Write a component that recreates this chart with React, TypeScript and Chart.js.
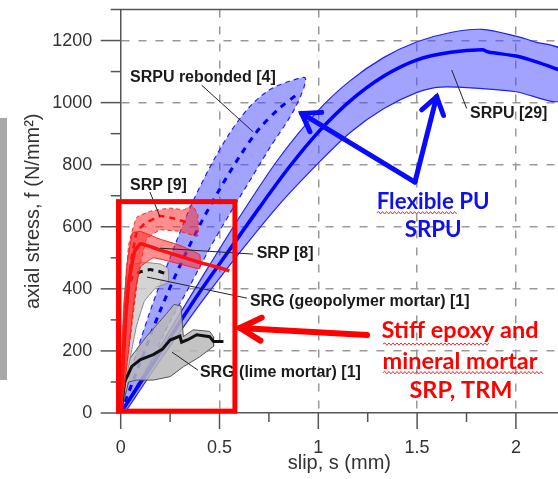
import React, { useEffect, useRef } from 'react';
import { Chart, registerables } from 'chart.js';

Chart.register(...registerables);

// ---------------- data ----------------
// SRPU [29] (Flexible PU) – mean curve and scatter band
const srpu29Slip = [0, 0.2, 0.4, 0.55, 0.7, 0.85, 1.0, 1.16, 1.33, 1.5, 1.67, 1.83, 1.86, 2.0, 2.1, 2.23];
const srpu29Stress = [0, 195, 390, 525, 660, 790, 905, 1005, 1085, 1138, 1162, 1170, 1163, 1150, 1132, 1103];
const srpu29UpperSlip = [0, 0.2, 0.4, 0.6, 0.8, 1.0, 1.16, 1.33, 1.5, 1.67, 1.83, 2.0, 2.1, 2.23];
const srpu29UpperStress = [0, 215, 425, 630, 820, 975, 1070, 1145, 1196, 1226, 1236, 1214, 1195, 1168];
const srpu29LowerSlip = [0.02, 0.2, 0.4, 0.6, 0.8, 1.0, 1.16, 1.33, 1.5, 1.62, 1.83, 2.0, 2.23];
const srpu29LowerStress = [0, 170, 350, 515, 670, 805, 903, 980, 1033, 1050, 1045, 1035, 1008];

// SRPU rebonded [4]
const rebondSlip = [0, 0.1, 0.2, 0.3, 0.4, 0.5, 0.6, 0.7, 0.8, 0.9];
const rebondStress = [0, 165, 330, 475, 605, 720, 825, 915, 980, 1030];
const rebondUpperSlip = [0, 0.05, 0.15, 0.25, 0.35, 0.45, 0.55, 0.65, 0.75, 0.85, 0.935];
const rebondUpperStress = [0, 130, 330, 500, 660, 790, 900, 985, 1040, 1068, 1078];
const rebondLowerSlip = [0, 0.15, 0.25, 0.35, 0.45, 0.55, 0.65, 0.75, 0.88];
const rebondLowerStress = [0, 165, 295, 410, 530, 640, 745, 850, 980];

// SRP [9]
const srp9Slip = [0, 0.02, 0.05, 0.08, 0.12, 0.2, 0.28, 0.35];
const srp9Stress = [0, 250, 480, 580, 610, 635, 625, 610];
const srp9UpperSlip = [0, 0.01, 0.04, 0.08, 0.15, 0.25, 0.32, 0.36, 0.39];
const srp9UpperStress = [0, 250, 540, 630, 650, 660, 655, 670, 640];
const srp9LowerSlip = [0, 0.05, 0.09, 0.13, 0.2, 0.3, 0.39];
const srp9LowerStress = [0, 250, 450, 560, 590, 585, 570];

// SRP [8]
const srp8Slip = [0, 0.02, 0.04, 0.07, 0.1, 0.2, 0.3, 0.4, 0.5, 0.55];
const srp8Stress = [0, 250, 420, 520, 545, 525, 505, 485, 468, 458];
const srp8UpperSlip = [0, 0.01, 0.03, 0.06, 0.1, 0.2, 0.3, 0.4];
const srp8UpperStress = [0, 250, 470, 580, 585, 560, 540, 510];
const srp8LowerSlip = [0, 0.04, 0.07, 0.1, 0.165, 0.3, 0.4];
const srp8LowerStress = [0, 200, 380, 470, 500, 480, 465];

// SRG (geopolymer mortar) [1]
const geoSlip = [0, 0.01, 0.025, 0.04, 0.06, 0.1, 0.15, 0.2, 0.23];
const geoStress = [0, 150, 300, 400, 440, 455, 462, 455, 448];
const geoUpperSlip = [0, 0.005, 0.015, 0.03, 0.06, 0.12, 0.2, 0.24];
const geoUpperStress = [0, 200, 350, 440, 478, 485, 480, 465];
const geoLowerSlip = [0, 0.04, 0.08, 0.12, 0.18, 0.24];
const geoLowerStress = [0, 150, 280, 360, 405, 420];

// SRG (lime mortar) [1]
const limeSlip = [0, 0.02, 0.056, 0.1, 0.165, 0.21, 0.25, 0.3, 0.308, 0.34, 0.385, 0.45, 0.47, 0.52];
const limeStress = [0, 100, 150, 172, 188, 205, 235, 248, 228, 236, 252, 246, 230, 230];
const limeUpperSlip = [0, 0.02, 0.047, 0.13, 0.233, 0.27, 0.305, 0.317, 0.367, 0.45, 0.47];
const limeUpperStress = [0, 140, 177, 246, 321, 350, 345, 246, 268, 263, 245];
const limeLowerSlip = [0, 0.04, 0.08, 0.165, 0.25, 0.317, 0.4, 0.47];
const limeLowerStress = [0, 100, 106, 106, 117, 149, 181, 215];

// axes ticks
const xMajorTicks = [0, 0.5, 1, 1.5, 2];
const xMinorTicks = [0.25, 0.75, 1.25, 1.75];
const yMajorTicks = [0, 200, 400, 600, 800, 1000, 1200];
const yMinorTicks = [100, 300, 500, 700, 900, 1100, 1300];

// annotation texts
const curveLabels = ['SRPU rebonded [4]', 'SRPU [29]', 'SRP [9]', 'SRP [8]', 'SRG (geopolymer mortar) [1]', 'SRG (lime mortar) [1]'];
const curveLabelPos = [[0.047, 1082], [1.768, 966], [0.047, 734], [0.688, 512], [0.654, 358], [0.401, 129]];
const leaderLines = [
  [0.41, 1056, 0.67, 906],
  [1.675, 1105, 1.751, 981],
  [0.148, 712, 0.199, 632],
  [0.199, 531, 0.67, 512],
  [0.133, 438, 0.639, 370],
  [0.26, 196, 0.391, 138],
];
const stiffLines = ['Stiff epoxy and', 'mineral mortar', 'SRP, TRM'];
const stiffPos = [[1.717, 267], [1.717, 165], [1.722, 74]];
const flexLines = ['Flexible PU', 'SRPU'];
const flexPos = [[1.581, 680], [1.581, 589]];

const FONT = "'Liberation Sans', Arial, Helvetica, sans-serif";
const CAL = "Lato, 'Open Sans', sans-serif";

function pts(xs: number[], ys: number[]) {
  return xs.map((x, i) => ({ x, y: ys[i] }));
}
function poly(ux: number[], uy: number[], lx: number[], ly: number[]) {
  return [...pts(ux, uy), ...pts(lx, ly).reverse()];
}

function lineDs(label: string, data: any[], color: string, width: number, dash: number[], order: number, tension = 0.2) {
  return { label, data, borderColor: color, borderWidth: width, borderDash: dash, pointRadius: 0, fill: false, order, tension, borderCapStyle: 'butt' };
}
function bandDs(label: string, data: any[], fillColor: string, edge: string, width: number, dash: number[], order: number, tension = 0.2) {
  return { label, data, borderColor: edge, borderWidth: width, borderDash: dash, backgroundColor: fillColor, pointRadius: 0, fill: 'shape', order, tension };
}

const overlayPlugin = {
  id: 'overlay',
  afterDraw(chart: any) {
    const { ctx, chartArea: ca, scales } = chart;
    const X = (v: number) => scales.x.getPixelForValue(v);
    const Y = (v: number) => scales.y.getPixelForValue(v);
    const seg = (x1: number, y1: number, x2: number, y2: number) => {
      ctx.beginPath();
      ctx.moveTo(x1, y1);
      ctx.lineTo(x2, y2);
      ctx.stroke();
    };
    ctx.save();
    // left photo strip remnant
    ctx.fillStyle = '#a8a8a8';
    ctx.fillRect(0, 118, 7, 262);

    // tick marks and top frame
    ctx.strokeStyle = '#555';
    ctx.lineWidth = 1.5;
    xMajorTicks.forEach((v) => seg(X(v), ca.bottom, X(v), ca.bottom + 16));
    xMinorTicks.forEach((v) => seg(X(v), ca.bottom, X(v), ca.bottom + 9));
    yMajorTicks.forEach((v) => seg(ca.left - 20, Y(v), ca.left, Y(v)));
    yMinorTicks.forEach((v) => seg(ca.left - 10, Y(v), ca.left, Y(v)));
    seg(ca.left, ca.top, ca.right, ca.top);

    // leader lines
    ctx.strokeStyle = '#222';
    ctx.lineWidth = 1;
    leaderLines.forEach((l) => seg(X(l[0]), Y(l[1]), X(l[2]), Y(l[3])));
    // curve labels
    ctx.fillStyle = '#1a1a1a';
    ctx.font = `bold 16px ${FONT}`;
    ctx.textAlign = 'left';
    ctx.textBaseline = 'middle';
    curveLabels.forEach((t, i) => ctx.fillText(t, X(curveLabelPos[i][0]), Y(curveLabelPos[i][1])));

    const arrow = (x1: number, y1: number, x2: number, y2: number, color: string, lw: number, hl: number, ha: number) => {
      ctx.strokeStyle = color;
      ctx.lineWidth = lw;
      ctx.lineCap = 'round';
      ctx.lineJoin = 'miter';
      seg(x1, y1, x2, y2);
      const a = Math.atan2(y2 - y1, x2 - x1);
      ctx.beginPath();
      ctx.moveTo(x2 - hl * Math.cos(a - ha), y2 - hl * Math.sin(a - ha));
      ctx.lineTo(x2, y2);
      ctx.lineTo(x2 - hl * Math.cos(a + ha), y2 - hl * Math.sin(a + ha));
      ctx.stroke();
    };
    const squiggle = (x1: number, x2: number, y: number) => {
      ctx.strokeStyle = '#e03030';
      ctx.lineWidth = 1;
      ctx.lineCap = 'butt';
      ctx.beginPath();
      ctx.moveTo(x1, y);
      let up = true;
      for (let x = x1 + 2; x <= x2; x += 2) {
        ctx.lineTo(x, y + (up ? -1.2 : 1.2));
        up = !up;
      }
      ctx.stroke();
    };
    const fitSize = (text: string, target: number, family: string) => {
      ctx.font = `bold 100px ${family}`;
      return (100 * target) / ctx.measureText(text).width;
    };

    // red box
    ctx.strokeStyle = '#ff0000';
    ctx.lineWidth = 5;
    ctx.lineJoin = 'miter';
    ctx.strokeRect(X(-0.011), Y(681), X(0.578) - X(-0.011), Y(6) - Y(681));
    // red arrow
    arrow(X(1.247), Y(251), X(0.604), Y(274), '#ff0000', 6, 24, 0.5);
    // red text
    const rs = fitSize(stiffLines[1], 155, CAL);
    ctx.font = `bold ${rs}px ${CAL}`;
    ctx.fillStyle = '#ff0000';
    ctx.textAlign = 'center';
    ctx.textBaseline = 'middle';
    stiffLines.forEach((t, i) => ctx.fillText(t, X(stiffPos[i][0]), Y(stiffPos[i][1])));
    squiggle(X(1.327), X(1.869), Y(222));
    squiggle(X(1.327), X(2.137), Y(130));

    // blue arrows
    arrow(X(1.489), Y(744), X(0.916), Y(965), '#0a0aff', 5, 20, 0.6);
    arrow(X(1.489), Y(744), X(1.599), Y(1019), '#0a0aff', 5, 20, 0.6);
    const bs = fitSize(flexLines[0], 113, CAL);
    ctx.font = `bold ${bs}px ${CAL}`;
    ctx.fillStyle = '#1010ee';
    ctx.textAlign = 'center';
    ctx.textBaseline = 'middle';
    flexLines.forEach((t, i) => ctx.fillText(t, X(flexPos[i][0]), Y(flexPos[i][1])));
    squiggle(X(1.295), X(1.707), Y(645));
    ctx.restore();
  },
};

export default function App() {
  const ref = useRef<HTMLCanvasElement>(null);
  useEffect(() => {
    if (!ref.current) return;
    const blueFill = 'rgba(70,70,255,0.5)';
    const redFill = 'rgba(255,50,50,0.55)';
    const grayFill = 'rgba(185,185,185,0.85)';
    const chart = new Chart(ref.current, {
      type: 'line',
      data: {
        datasets: [
          lineDs('SRP [8]', pts(srp8Slip, srp8Stress), '#ff1010', 3.5, [], 1, 0.1),
          lineDs('SRP [9]', pts(srp9Slip, srp9Stress), '#ff1010', 2.5, [6, 5], 2, 0.1),
          bandDs('SRP [8] band', poly(srp8UpperSlip, srp8UpperStress, srp8LowerSlip, srp8LowerStress), redFill, '#ff2020', 1, [], 3, 0.1),
          bandDs('SRP [9] band', poly(srp9UpperSlip, srp9UpperStress, srp9LowerSlip, srp9LowerStress), redFill, '#ff2020', 1, [4, 3], 4, 0.1),
          lineDs('SRG geo', pts(geoSlip, geoStress), '#111', 3, [6, 5], 5, 0.1),
          lineDs('SRG lime', pts(limeSlip, limeStress), '#111', 3, [], 6, 0),
          bandDs('SRG geo band', poly(geoUpperSlip, geoUpperStress, geoLowerSlip, geoLowerStress), 'rgba(205,205,205,0.85)', '#888', 1, [], 7, 0.1),
          bandDs('SRG lime band', poly(limeUpperSlip, limeUpperStress, limeLowerSlip, limeLowerStress), grayFill, '#555', 1, [], 8, 0),
          lineDs('SRPU [29]', pts(srpu29Slip, srpu29Stress), '#0000ff', 3.5, [], 9, 0.3),
          lineDs('SRPU rebonded', pts(rebondSlip, rebondStress), '#0000ff', 3, [6, 6], 10, 0.3),
          bandDs('SRPU [29] band', poly(srpu29UpperSlip, srpu29UpperStress, srpu29LowerSlip, srpu29LowerStress), blueFill, '#2020ff', 1.2, [], 11, 0.3),
          bandDs('SRPU rebonded band', poly(rebondUpperSlip, rebondUpperStress, rebondLowerSlip, rebondLowerStress), blueFill, '#2020ff', 1.2, [5, 4], 12, 0.3),
        ] as any,
      },
      options: {
        animation: false,
        responsive: false,
        maintainAspectRatio: false,
        layout: { padding: { left: 0, right: 0, top: 9.5, bottom: 0 } },
        plugins: { legend: { display: false }, tooltip: { enabled: false } },
        scales: {
          x: {
            type: 'linear',
            min: 0,
            max: 2.213,
            afterFit: (s: any) => {
              s.height = 66;
              s.paddingLeft = 0;
              s.paddingRight = 0;
              s.paddingTop = 0;
              s.paddingBottom = 0;
            },
            ticks: {
              stepSize: 0.5,
              includeBounds: false,
              padding: 24,
              color: '#333',
              font: { family: FONT, size: 18 },
              maxRotation: 0,
              autoSkip: false,
              callback: (v: any) => String(v),
            },
            grid: {
              drawTicks: false,
              lineWidth: 1.5,
              color: (c: any) => (c.tick && c.tick.value === 0 ? 'rgba(0,0,0,0)' : '#9a9a9a'),
            },
            border: { display: true, color: '#555', width: 1.5, dash: [8, 9] },
            title: {
              display: true,
              text: 'slip, s (mm)',
              color: '#333',
              font: { family: FONT, size: 20 },
              padding: { top: 0, bottom: 4 },
            },
          },
          y: {
            type: 'linear',
            min: 0,
            max: 1300,
            afterFit: (s: any) => {
              s.width = 120.7;
              s.paddingLeft = 0;
              s.paddingRight = 0;
              s.paddingTop = 0;
              s.paddingBottom = 0;
            },
            ticks: {
              stepSize: 200,
              includeBounds: false,
              padding: 28.4,
              color: '#333',
              font: { family: FONT, size: 18 },
              callback: (v: any) => String(v),
            },
            grid: {
              drawTicks: false,
              lineWidth: 1.5,
              color: (c: any) => (c.tick && c.tick.value === 0 ? 'rgba(0,0,0,0)' : '#9a9a9a'),
            },
            border: { display: true, color: '#555', width: 1.5, dash: [8, 9] },
            title: {
              display: true,
              text: 'axial stress, f (N/mm²)',
              color: '#333',
              font: { family: FONT, size: 20 },
              padding: { top: 21, bottom: 0 },
            },
          },
        },
      } as any,
      plugins: [overlayPlugin],
    });
    return () => chart.destroy();
  }, []);
  return (
    <div style={{ position: 'fixed', left: 0, top: 0, width: 558, height: 479, overflow: 'hidden', background: '#fff' }}>
      <canvas ref={ref} width={558} height={479} style={{ display: 'block' }} />
    </div>
  );
}
